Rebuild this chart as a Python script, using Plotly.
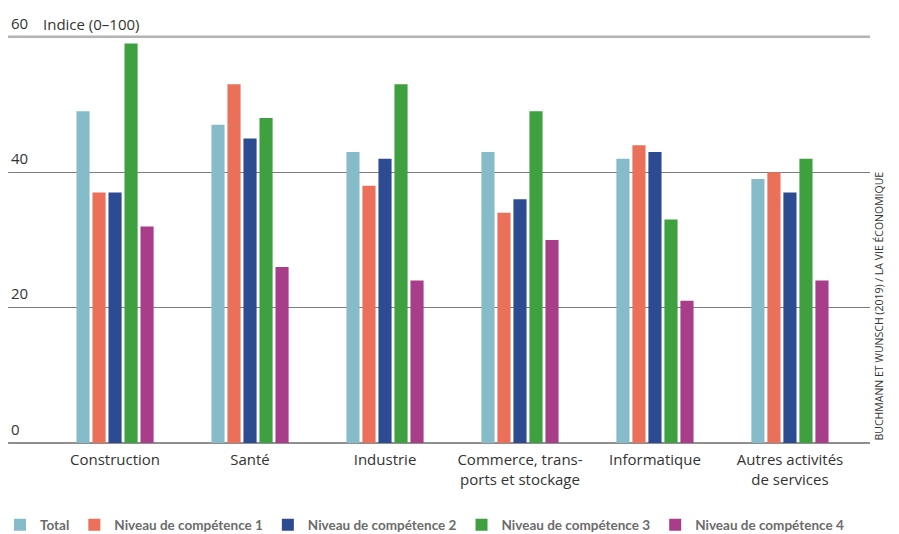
import plotly.graph_objects as go

categories = ["Construction", "Santé", "Industrie", "Commerce, trans-<br>ports et stockage",
              "Informatique", "Autres activités<br>de services"]
series_names = ["Total", "Niveau de compétence 1", "Niveau de compétence 2",
                "Niveau de compétence 3", "Niveau de compétence 4"]
total = [49, 47, 43, 43, 42, 39]
niveau1 = [37, 53, 38, 34, 44, 40]
niveau2 = [37, 45, 42, 36, 43, 37]
niveau3 = [59, 48, 53, 49, 33, 42]
niveau4 = [32, 26, 24, 30, 21, 24]
y_tickvals = [0, 20, 40, 60]
y_ticktext = ["0", "20", "40", "60"]
y_unit = "Indice (0–100)"
source_text = "BUCHMANN ET WUNSCH (2019) / LA VIE ÉCONOMIQUE"

colors = ["#86bbca", "#ea705a", "#2c4b91", "#3fa03f", "#a83d8a"]
values = [total, niveau1, niveau2, niveau3, niveau4]
FONT = "Open Sans"

fig = go.Figure()
for name, vals, col in zip(series_names, values, colors):
    fig.add_trace(go.Bar(x=list(range(len(categories))), y=vals, name=name,
                         marker=dict(color=col, line=dict(width=0))))

fig.update_layout(
    width=899, height=534,
    margin=dict(l=8, r=29, t=3, b=91, autoexpand=False),
    paper_bgcolor="white", plot_bgcolor="white",
    barmode="group", bargap=0.407, bargroupgap=0.18,
    font=dict(family=FONT, color="#333333", size=14),
    showlegend=True,
    legend=dict(orientation="h", xref="container", yref="container",
                x=-0.0125, xanchor="left", y=0.017, yanchor="middle",
                font=dict(family="Lato", size=13.5, color="#6b6b6b", weight="bold"),
                itemclick=False, traceorder="normal"),
    xaxis=dict(range=[-0.793, 5.593], tickmode="array",
               tickvals=list(range(len(categories))), ticktext=categories,
               showgrid=False, ticks="", showline=False, zeroline=False, tickangle=0,
               tickfont=dict(family=FONT, size=15, color="#333333"),
               ticklabelstandoff=6, ticklabeloverflow="allow"),
    yaxis=dict(range=[0, 65], tickmode="array", tickvals=y_tickvals, ticktext=y_ticktext,
               showgrid=True, gridcolor="#7d7d7d", gridwidth=1,
               zeroline=True, zerolinecolor="#8f8f8f", zerolinewidth=1.5,
               ticks="", ticklabelposition="inside top", ticklabelshift=-3,
               tickfont=dict(family=FONT, size=15, color="#333333")),
    shapes=[dict(type="line", xref="paper", x0=0, x1=1, yref="y", y0=60, y1=60,
                 line=dict(color="#b4b4b4", width=2.5), layer="above")],
    annotations=[
        dict(text=source_text, textangle=-90, xref="paper", x=1, xanchor="center",
             xshift=8, yref="y", y=0, yanchor="bottom", showarrow=False,
             font=dict(family="Open Sans", size=10.5, color="#333333")),
        dict(text=y_unit, xref="paper", x=0, xanchor="left", xshift=33,
             yref="y", y=y_tickvals[-1], yanchor="bottom", yshift=1, showarrow=False,
             font=dict(family=FONT, size=15, color="#333333")),
    ],
)

fig.write_html("out.html")
